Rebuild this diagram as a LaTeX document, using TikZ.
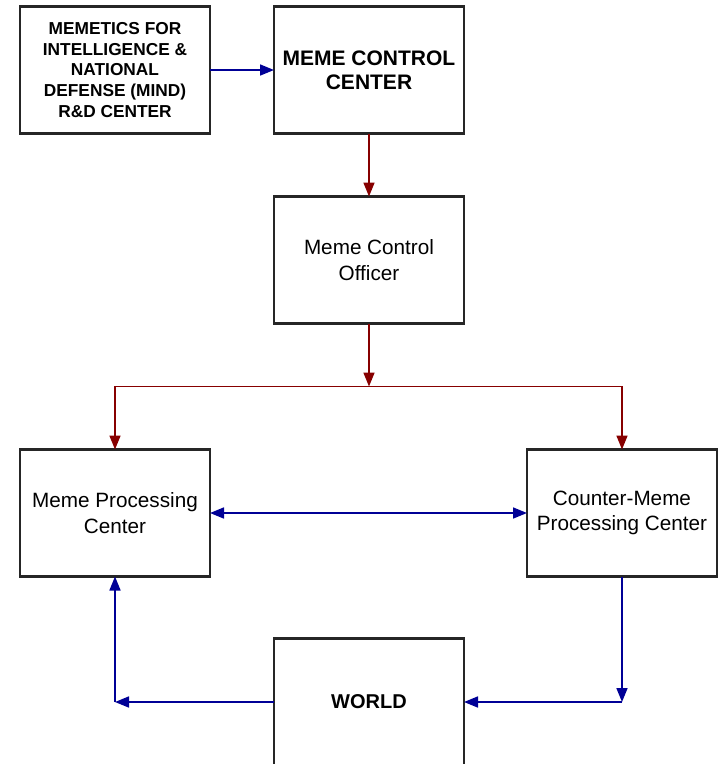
\documentclass[tikz,border=0pt]{standalone}
\usepackage{fontspec}
\setmainfont{Liberation Sans}
\usepackage{tikz}
\usetikzlibrary{arrows.meta,positioning,calc}

\begin{document}
\begin{tikzpicture}[
    x=1pt, y=1pt,
    >={Triangle[length=14pt,width=11pt]},
    box/.style={draw=black!85, line width=2.2pt, rectangle, minimum width=190pt, minimum height=127pt, align=center, outer sep=0pt, font=\fontsize{20.7}{25.5}\selectfont},
    bigbox/.style={box, font=\fontsize{21}{24}\selectfont\bfseries},
    smallbox/.style={box, font=\fontsize{17.3}{20.8}\selectfont\bfseries},
    blueline/.style={draw={rgb,255:red,0;green,0;blue,150}, line width=1.7pt},
    redline/.style={draw={rgb,255:red,135;green,0;blue,0}, line width=1.7pt}
]
    \useasboundingbox (0,0) rectangle (723,-764);
    \node[smallbox] (mind) at (115,-70) {MEMETICS FOR\\INTELLIGENCE \&\\NATIONAL\\DEFENSE (MIND)\\R\&D CENTER};
    \node[bigbox, right=64pt of mind] (mcc) {MEME CONTROL\\CENTER};
    \node[box, below=63pt of mcc] (officer) {Meme Control\\Officer};
    \coordinate[below=63pt of officer] (split);
    \node[box, below=316pt of mind] (memeproc) {Meme Processing\\Center};
    \node[box, right=317pt of memeproc] (counter) {Counter-Meme\\Processing Center};
    \node[bigbox, font=\fontsize{20}{24}\selectfont\bfseries, below=315pt of officer] (world) {WORLD};
    \coordinate (rightturn) at (counter.south |- world.east);
    \coordinate (leftturn) at (memeproc.south |- world.west);

    \draw[blueline, ->] (mind) -- (mcc);
    \draw[redline, ->] (mcc) -- (officer);
    \draw[redline, ->] (officer) -- (split);
    \draw[redline, ->] (split) -| (memeproc);
    \draw[redline, ->] (split) -| (counter);
    \draw[blueline, <->] (memeproc) -- (counter);
    \draw[blueline, ->] (counter) -- (rightturn);
    \draw[blueline, ->] (rightturn) -- (world);
    \draw[blueline, ->] (world) -- (leftturn);
    \draw[blueline, ->] (leftturn) -- (memeproc);
\end{tikzpicture}
\end{document}
